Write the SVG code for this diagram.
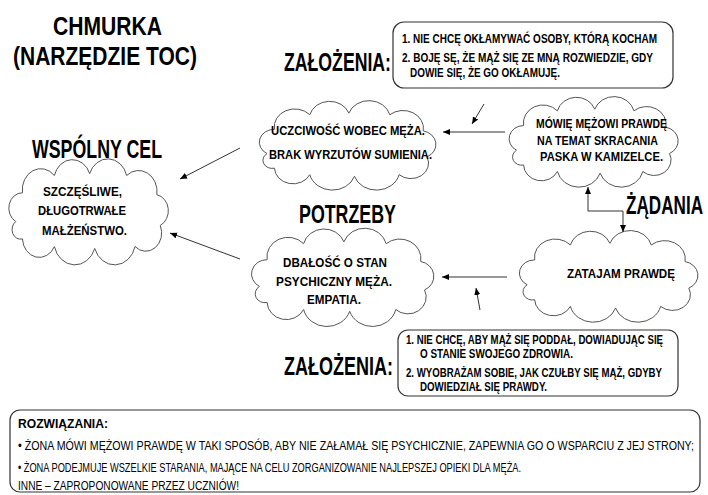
<svg xmlns="http://www.w3.org/2000/svg" width="708" height="495" viewBox="0 0 708 495">
<style>
text{font-family:"Liberation Sans Narrow","Liberation Sans",Arial,sans-serif;fill:#000}
.h{font-size:25px;font-weight:bold}
.t{font-size:12px;font-weight:bold}
.r{font-size:12px}
.cloud{fill:#fff;stroke:#555;stroke-width:1;vector-effect:non-scaling-stroke}
.box{fill:#fff;stroke:#333;stroke-width:1.2}
.c{stroke:#333;stroke-width:1;fill:none}
</style>
<defs>
<path id="cl" class="cloud" d="M14,60 A16,16 0 0 1 22,30 A22,22 0 0 1 60,12 A22,22 0 0 1 102,10 A23,23 0 0 1 146,12 A22,22 0 0 1 182,32 A17,17 0 0 1 186,64 A19,19 0 0 1 156,86 A25,25 0 0 1 108,88 A25,25 0 0 1 60,86 A20,20 0 0 1 22,78 A10,10 0 0 1 14,60 Z"/>
<marker id="ah" markerWidth="8" markerHeight="8" refX="7" refY="4" orient="auto-start-reverse" markerUnits="userSpaceOnUse">
<path d="M0,1 L7,4 L0,7 Z" fill="#000"/>
</marker>
</defs>

<g id="title">
<text class="h" x="53" y="35" textLength="109" lengthAdjust="spacingAndGlyphs">CHMURKA</text>
<text class="h" x="13" y="65" textLength="184" lengthAdjust="spacingAndGlyphs">(NARZĘDZIE TOC)</text>
</g>

<g id="labels">
<text class="h" x="284" y="71" font-size="25" textLength="107" lengthAdjust="spacingAndGlyphs">ZAŁOŻENIA:</text>
<text class="h" x="32" y="158" font-size="25" textLength="130" lengthAdjust="spacingAndGlyphs">WSPÓLNY CEL</text>
<text class="h" x="299" y="223" font-size="25" textLength="97" lengthAdjust="spacingAndGlyphs">POTRZEBY</text>
<text class="h" x="626" y="214" font-size="25" textLength="77" lengthAdjust="spacingAndGlyphs">ŻĄDANIA</text>
<text class="h" x="284" y="375" font-size="25" textLength="109" lengthAdjust="spacingAndGlyphs">ZAŁOŻENIA:</text>
</g>

<g id="assumptions-top">
<rect class="box" x="393" y="22" width="280" height="66" rx="11"/>
<text class="t" x="402" y="43" textLength="255" lengthAdjust="spacingAndGlyphs">1. NIE CHCĘ OKŁAMYWAĆ OSOBY, KTÓRĄ KOCHAM</text>
<text class="t" x="402" y="62" textLength="251" lengthAdjust="spacingAndGlyphs">2. BOJĘ SĘ, ŻE MĄŻ SIĘ ZE MNĄ ROZWIEDZIE, GDY</text>
<text class="t" x="410" y="77" textLength="150" lengthAdjust="spacingAndGlyphs">DOWIE SIĘ, ŻE GO OKŁAMUJĘ.</text>
</g>

<g id="goal">
<use href="#cl" transform="translate(4,164) scale(0.84,0.96)"/>
<text class="t" x="43" y="196" textLength="79" lengthAdjust="spacingAndGlyphs">SZCZĘŚLIWE,</text>
<text class="t" x="38" y="215" textLength="88" lengthAdjust="spacingAndGlyphs">DŁUGOTRWAŁE</text>
<text class="t" x="42" y="235" textLength="85" lengthAdjust="spacingAndGlyphs">MAŁŻEŃSTWO.</text>
</g>

<g id="need-top">
<use href="#cl" transform="translate(254,105) scale(0.93,0.81)"/>
<text class="t" x="271" y="135" textLength="154" lengthAdjust="spacingAndGlyphs">UCZCIWOŚĆ WOBEC MĘŻA.</text>
<text class="t" x="269" y="159" textLength="163" lengthAdjust="spacingAndGlyphs">BRAK WYRZUTÓW SUMIENIA.</text>
</g>

<g id="demand-top">
<use href="#cl" transform="translate(504,101) scale(0.89,0.82)"/>
<text class="t" x="536" y="128" textLength="131" lengthAdjust="spacingAndGlyphs">MÓWIĘ MĘŻOWI PRAWDĘ</text>
<text class="t" x="537" y="145" textLength="121" lengthAdjust="spacingAndGlyphs">NA TEMAT SKRACANIA</text>
<text class="t" x="540" y="161" textLength="123" lengthAdjust="spacingAndGlyphs">PASKA W KAMIZELCE.</text>
</g>

<g id="need-bottom">
<use href="#cl" transform="translate(246,233) scale(0.96,0.89)"/>
<text class="t" x="283" y="267" textLength="104" lengthAdjust="spacingAndGlyphs">DBAŁOŚĆ O STAN</text>
<text class="t" x="276" y="286" textLength="116" lengthAdjust="spacingAndGlyphs">PSYCHICZNY MĘŻA.</text>
<text class="t" x="307" y="304" textLength="54" lengthAdjust="spacingAndGlyphs">EMPATIA.</text>
</g>

<g id="demand-bottom">
<use href="#cl" transform="translate(514,235) scale(0.94,0.83)"/>
<text class="t" x="567" y="278" textLength="108" lengthAdjust="spacingAndGlyphs">ZATAJAM PRAWDĘ</text>
</g>

<g id="assumptions-bottom">
<rect class="box" x="398" y="330" width="280" height="66" rx="10"/>
<text class="t" x="406" y="344" textLength="257" lengthAdjust="spacingAndGlyphs">1. NIE CHCĘ, ABY MĄŻ SIĘ PODDAŁ, DOWIADUJĄC SIĘ</text>
<text class="t" x="420" y="358" textLength="153" lengthAdjust="spacingAndGlyphs">O STANIE SWOJEGO ZDROWIA.</text>
<text class="t" x="406" y="377" textLength="256" lengthAdjust="spacingAndGlyphs">2. WYOBRAŻAM SOBIE, JAK CZUŁBY SIĘ MĄŻ, GDYBY</text>
<text class="t" x="420" y="391" textLength="127" lengthAdjust="spacingAndGlyphs">DOWIEDZIAŁ SIĘ PRAWDY.</text>
</g>

<g id="connectors">
<line class="c" x1="505" y1="132" x2="443" y2="132" marker-end="url(#ah)"/>
<line class="c" x1="484" y1="104" x2="472" y2="124" marker-end="url(#ah)"/>
<line class="c" x1="240" y1="148" x2="180" y2="179" marker-end="url(#ah)"/>
<line class="c" x1="240" y1="259" x2="170" y2="233" marker-end="url(#ah)"/>
<line class="c" x1="507" y1="277" x2="442" y2="277" marker-end="url(#ah)"/>
<line class="c" x1="480" y1="310" x2="476" y2="288" marker-end="url(#ah)"/>
<path class="c" d="M588,187 L588,211 L623,211 L623,232" marker-start="url(#ah)" marker-end="url(#ah)"/>
</g>

<g id="solutions">
<rect class="box" x="10" y="410" width="690" height="82" rx="10" stroke="#666"/>
<text class="t" x="18" y="428" textLength="90" lengthAdjust="spacingAndGlyphs">ROZWIĄZANIA:</text>
<text class="r" x="18" y="450" textLength="676" lengthAdjust="spacingAndGlyphs">• ŻONA MÓWI MĘŻOWI PRAWDĘ W TAKI SPOSÓB, ABY NIE ZAŁAMAŁ SIĘ PSYCHICZNIE, ZAPEWNIA GO O WSPARCIU Z JEJ STRONY;</text>
<text class="r" x="18" y="472" textLength="503" lengthAdjust="spacingAndGlyphs">• ŻONA PODEJMUJE WSZELKIE STARANIA, MAJĄCE NA CELU ZORGANIZOWANIE NAJLEPSZEJ OPIEKI DLA MĘŻA.</text>
<text class="r" x="18" y="490" textLength="221" lengthAdjust="spacingAndGlyphs">INNE – ZAPROPONOWANE PRZEZ UCZNIÓW!</text>
</g>
</svg>
